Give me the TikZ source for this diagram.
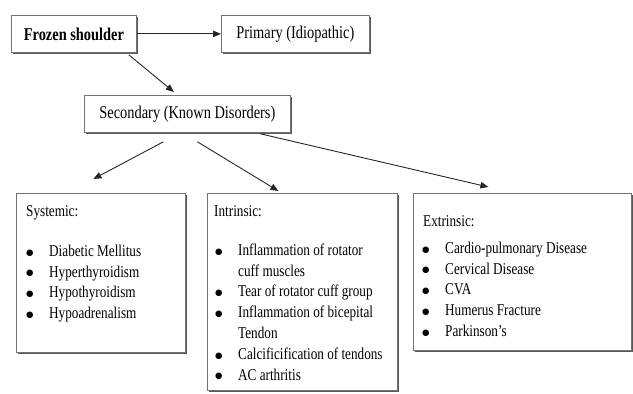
\documentclass[tikz,border=0pt]{standalone}
\usepackage{fontspec}
\setmainfont{Liberation Serif}[FakeStretch=0.8]
\newfontfamily\dotfont{DejaVu Sans}
\usetikzlibrary{calc}
\usetikzlibrary{arrows.meta}
\usetikzlibrary{shadows}

\newcommand\bigfont{\fontsize{18}{22}\selectfont}
\newcommand\listfont{\fontsize{16.5}{20.8}\selectfont}
\newcommand\itm{\makebox[23pt][l]{\raisebox{1.2pt}{\dotfont\fontsize{8.5}{9}\selectfont ●}}}

\tikzset{
  box/.style={draw=black!55,line width=0.8pt,fill=white,inner sep=0pt,anchor=north west,
    drop shadow={shadow xshift=2pt,shadow yshift=-2pt,fill=black!65,opacity=1}},
  head/.style={font=\listfont,inner sep=0pt,anchor=base west},
  lst/.style={font=\listfont,inner sep=0pt,anchor=north west,align=left},
  arr/.style={-{Triangle[length=8pt,width=6.5pt]},line width=0.9pt,black!85}
}

\begin{document}
\begin{tikzpicture}[x=1pt,y=-1pt]
\useasboundingbox (0,0) rectangle (633,394);
\node[box,minimum width=125pt,minimum height=37pt,font=\bigfont\bfseries] (frozen) at (11,15) {Frozen shoulder};
\node[box,minimum width=148pt,minimum height=37pt,font=\bigfont] (prim) at (221,15) {Primary (Idiopathic)};
\node[box,minimum width=206pt,minimum height=37pt,font=\bigfont] (sec) at (84,95) {Secondary (Known Disorders)};

% groups of disorders
\node[box,minimum width=169pt,minimum height=159pt] (sys) at (16,193) {};
\node[box,minimum width=190pt,minimum height=197pt] (intr) at (207,193) {};
\node[box,minimum width=218pt,minimum height=157pt] (extr) at (413,193) {};

\node[head] (sys-head) at (26,216) {Systemic:};
\node[lst] (sys-list) at (26,241.5) {\strut\itm Diabetic Mellitus\\ \itm Hyperthyroidism\\
  \itm Hypothyroidism\\ \itm Hypoadrenalism};

\node[head] (intr-head) at (214,216) {Intrinsic:};
\node[lst] (intr-list) at (215,240.5) {\strut\itm Inflammation of rotator\\ \hspace*{23pt}cuff muscles\\
  \itm Tear of rotator cuff group\\ \itm Inflammation of bicepital\\ \hspace*{23pt}Tendon\\
  \itm Calcificification of tendons\\ \itm AC arthritis};

\node[head] (extr-head) at (423,226) {Extrinsic:};
\node[lst] (extr-list) at (422,238.5) {\strut\itm Cardio-pulmonary Disease\\ \itm Cervical Disease\\
  \itm CVA\\ \itm Humerus Fracture\\ \itm Parkinson's};

\draw[arr] (frozen.east) -- (prim.west);
\draw[arr] ($(frozen.south east)+(-8,2)$) -- ($(sec.north)+(-13.5,-3)$);
\draw[arr] ($(sec.south)+(-24,9)$) -- ($(sys.north)+(-7.5,-14)$);
\draw[arr] ($(sec.south)+(10,9)$) -- ($(intr.north)+(-24,-2)$);
\draw[arr] ($(sec.south)+(73,1)$) -- ($(extr.north)+(-34,-6)$);
\end{tikzpicture}
\end{document}
